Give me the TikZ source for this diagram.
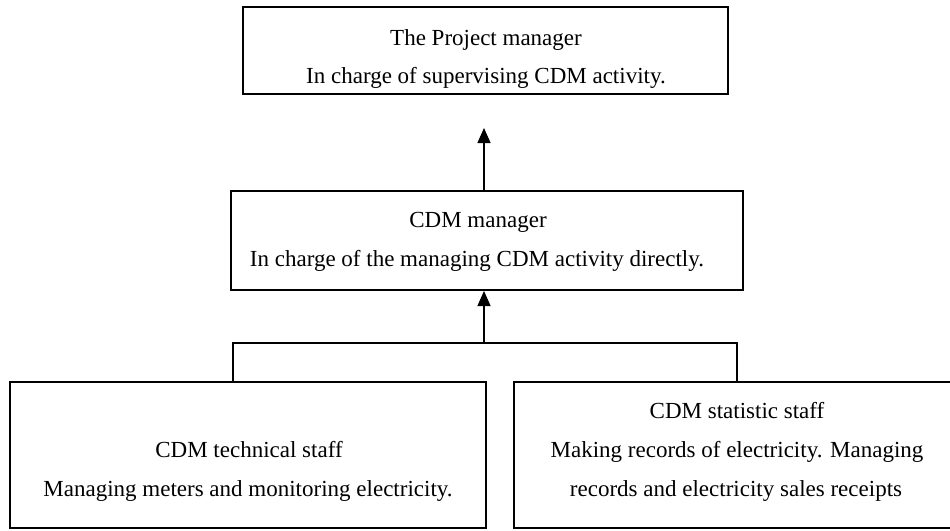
\documentclass[tikz,border=0pt]{standalone}
\usepackage{fontspec}
\setmainfont{Liberation Serif}
\usetikzlibrary{arrows.meta}
\tikzset{
  box/.style={draw, line width=2pt, rectangle, inner sep=0pt},
  txt/.style={anchor=base, inner sep=0pt, font=\fontsize{23}{28}\selectfont},
  conn/.style={line width=1.3pt},
  arr/.style={conn, -{Triangle[length=15pt,width=13pt]}}
}
\begin{document}
\begin{tikzpicture}[x=1pt,y=-1pt]
\useasboundingbox[fill=white] (0,0) rectangle (950,530);
% boxes
\node[box, minimum width=485pt, minimum height=87pt] (top) at (485.5,50.5) {};
\node[box, minimum width=512pt, minimum height=99pt] (mid) at (487,240.5) {};
\node[box, minimum width=476pt, minimum height=146pt] (L) at (248,455) {};
\node[box, minimum width=450pt, minimum height=146pt] (R) at (739,455) {};
% texts
\node[txt] (t1) at (486,45) {The Project manager};
\node[txt] (t2) at (486,83) {In charge of supervising CDM activity.};
\node[txt] (m1) at (478,227) {CDM manager};
\node[txt] (m2) at (477,266) {In charge of the managing CDM activity directly.};
\node[txt] (l1) at (249,457) {CDM technical staff};
\node[txt] (l2) at (248,496) {Managing meters and monitoring electricity.};
\node[txt] (r1) at (737,418) {CDM statistic staff};
\node[txt] (r2) at (737,457) {Making records of electricity. Managing};
\node[txt] (r3) at (736,496) {records and electricity sales receipts};
% connectors
\coordinate (a1) at (484,128);
\coordinate (j) at (484,343);
\coordinate (jl) at (233,343);
\coordinate (jr) at (737,343);
\draw[arr] (a1 |- mid.north) -- (a1);
\draw[arr] (j) -- (j |- mid.south);
\draw[conn] (jl |- L.north) -- (jl) -- (jr) -- (jr |- R.north);
\end{tikzpicture}
\end{document}
